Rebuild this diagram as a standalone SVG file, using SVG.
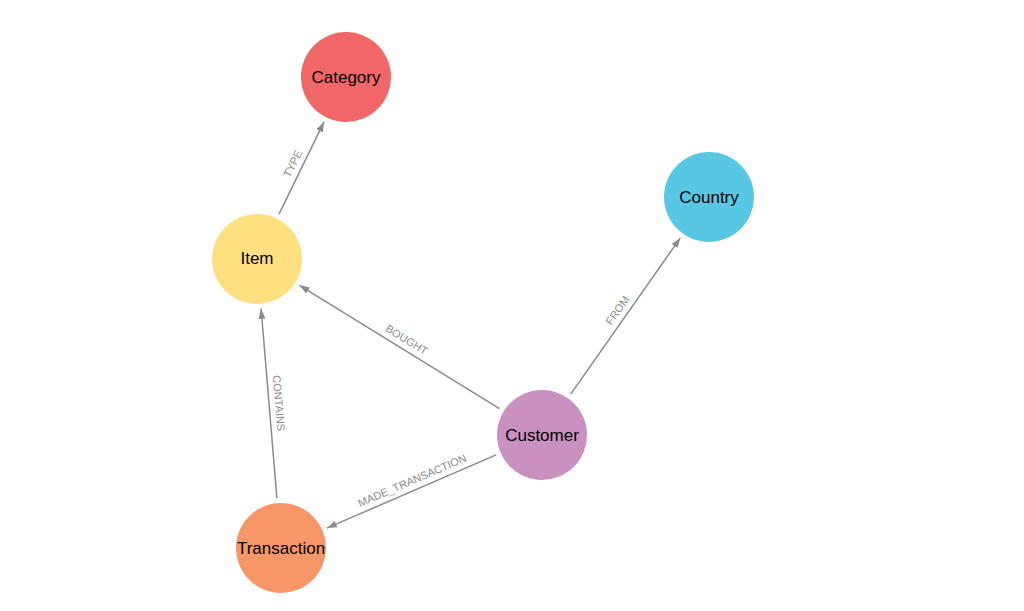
<svg xmlns="http://www.w3.org/2000/svg" width="1024" height="611" viewBox="0 0 1024 611">
<defs>
<style>
.node circle{stroke:none}
.node text{font-family:"Liberation Sans",Arial,sans-serif;font-size:17px;fill:#000;text-anchor:middle}
.edge line{stroke:#8a8a8a;stroke-width:1.5;fill:none}
.edge text{font-family:"Liberation Sans",Arial,sans-serif;font-size:11px;fill:#8c8c8c;text-anchor:middle}
</style>
<marker id="arrow" markerUnits="userSpaceOnUse" markerWidth="10" markerHeight="10" viewBox="0 0 10 10" refX="10" refY="5" orient="auto">
<path d="M0,1.5 L10,5 L0,8.5 Z" fill="#8a8a8a"/>
</marker>
</defs>
<rect width="1024" height="611" fill="#fff"/>
<g id="connectors">
<g class="edge" id="e-type">
<line x1="279" y1="214.1" x2="324" y2="121.9" marker-end="url(#arrow)"/>
<text transform="translate(301.5,168) rotate(-63.95)" y="-6">TYPE</text>
</g>
<g class="edge" id="e-bought">
<line x1="499.5" y1="408.7" x2="299.5" y2="285.3" marker-end="url(#arrow)"/>
<text transform="translate(401.5,348) rotate(31.7)" y="-6">BOUGHT</text>
</g>
<g class="edge" id="e-contains">
<line x1="276.9" y1="498.2" x2="261.1" y2="308.8" marker-end="url(#arrow)"/>
<text transform="translate(269,404) rotate(85.25)" y="-6">CONTAINS</text>
</g>
<g class="edge" id="e-made">
<line x1="496.1" y1="454.9" x2="326.9" y2="528.1" marker-end="url(#arrow)"/>
<text transform="translate(416,489.5) rotate(-23.4)" y="-6">MADE_TRANSACTION</text>
</g>
<g class="edge" id="e-from">
<line x1="570.7" y1="394.1" x2="680.3" y2="237.9" marker-end="url(#arrow)"/>
<text transform="translate(625.5,316) rotate(-54.95)" y="-6">FROM</text>
</g>
</g>
<g class="node" id="category"><circle cx="346" cy="77" r="45" fill="#F16667"/><text x="346" y="83">Category</text></g>
<g class="node" id="country"><circle cx="709" cy="197" r="45" fill="#57C7E3"/><text x="709" y="203">Country</text></g>
<g class="node" id="item"><circle cx="257" cy="259" r="45" fill="#FFE081"/><text x="257" y="264">Item</text></g>
<g class="node" id="customer"><circle cx="542" cy="435" r="45" fill="#C990C0"/><text x="542" y="441">Customer</text></g>
<g class="node" id="transaction"><circle cx="281" cy="548" r="45" fill="#F79767"/><text x="281" y="554">Transaction</text></g>
</svg>
